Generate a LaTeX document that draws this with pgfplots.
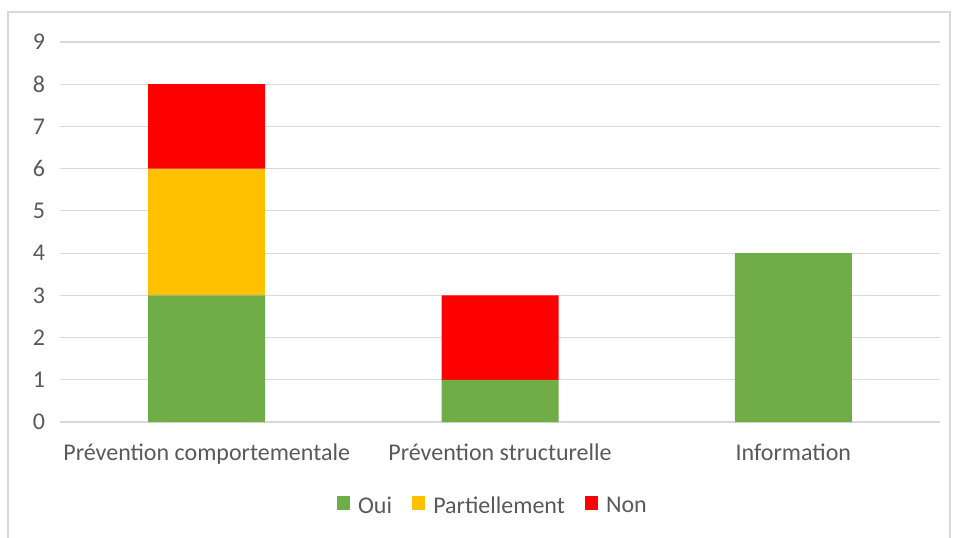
\documentclass[border=0pt]{standalone}
\usepackage{pgfplots}
\pgfplotsset{compat=1.18}
\usepackage{fontspec}
\setmainfont{Carlito}
\definecolor{cgreen}{HTML}{70AD47}
\definecolor{corange}{HTML}{FFC000}
\definecolor{cred}{HTML}{FF0000}
\definecolor{cgrid}{HTML}{D9D9D9}
\definecolor{ctext}{HTML}{595959}
\begin{document}
\begin{tikzpicture}
\path[use as bounding box] (0,0) rectangle (477pt,268.5pt);
\draw[cgrid, line width=0.6pt] (4pt,-2pt) -- (4pt,262.5pt) -- (475pt,262.5pt) -- (475pt,-2pt);
\begin{axis}[
  at={(30pt,57.5pt)}, anchor=south west,
  scale only axis, width=440pt, height=190pt,
  ybar stacked, bar width=58.5pt,
  xmin=-0.5, xmax=2.5, ymin=0, ymax=9,
  xtick={0,1,2},
  xticklabels={Prévention comportementale, Prévention structurelle, Information},
  ytick={0,...,9},
  axis line style={draw=none},
  major tick length=0pt,
  ymajorgrids, grid style={cgrid, line width=0.6pt},
  tick label style={font=\fontsize{12}{14}\selectfont, color=ctext},
  /pgf/number format/assume math mode=true,
  yticklabel style={xshift=-4pt},
  xticklabel style={yshift=-7.5pt},
  legend style={at={(0.493,-0.222)}, anchor=center, draw=none, legend columns=3,
    font=\fontsize{12}{14}\selectfont, text=ctext,
    /tikz/every even column/.append style={column sep=8pt}},
  legend image code/.code={\fill[#1] (0pt,-1.6pt) rectangle (6.6pt,5pt); \path (8.6pt,0pt);},
  legend cell align=left,
]
\addplot[fill=cgreen, draw=none] coordinates {(0,3) (1,1) (2,4)};
\addplot[fill=corange, draw=none] coordinates {(0,3) (1,0) (2,0)};
\addplot[fill=cred, draw=none] coordinates {(0,2) (1,2) (2,0)};
\legend{Oui, Partiellement, Non}
\end{axis}
\end{tikzpicture}
\end{document}
